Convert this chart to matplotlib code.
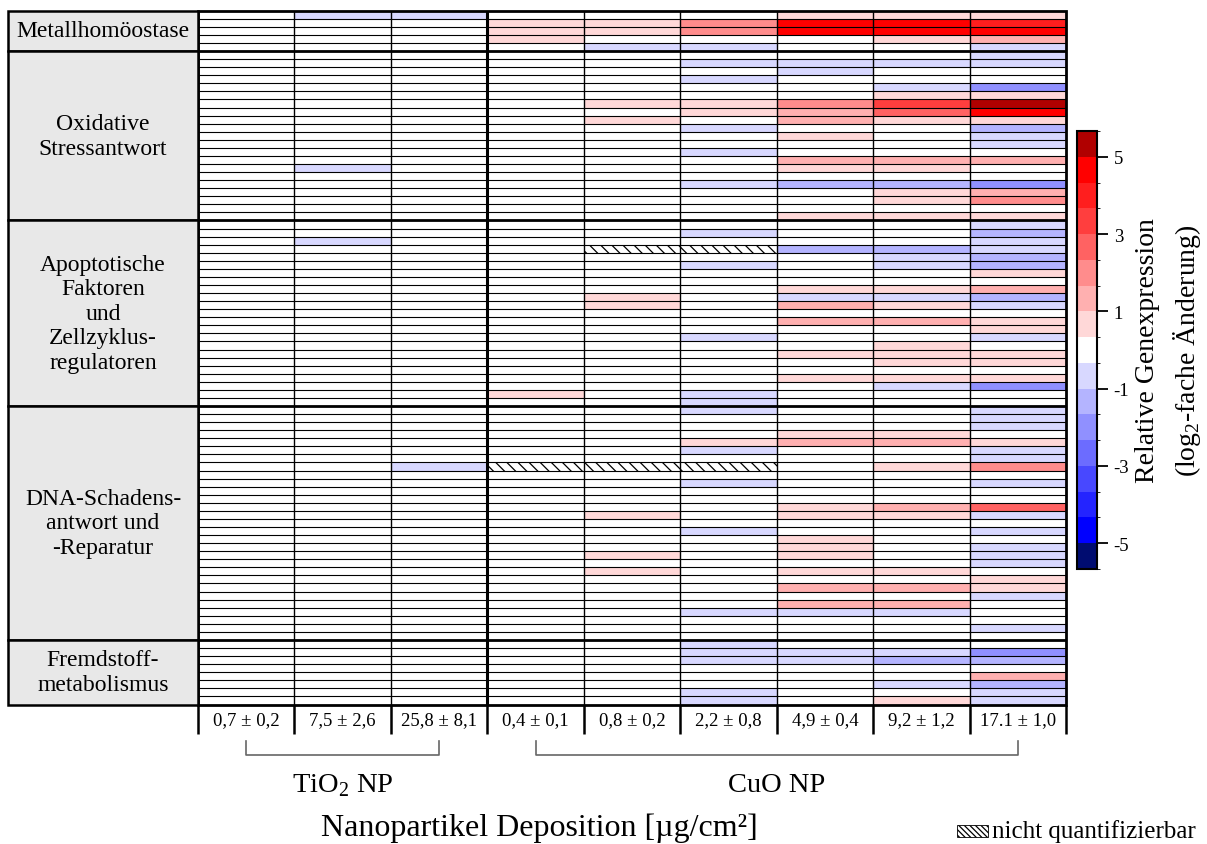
import numpy as np
import matplotlib
matplotlib.use('Agg')
import matplotlib.pyplot as plt
from matplotlib.colors import ListedColormap, BoundaryNorm
from matplotlib.patches import Rectangle

# Schrift wie im Original (Times-aehnlich)
plt.rcParams['font.family'] = ['Liberation Serif', 'DejaVu Serif']
plt.rcParams['mathtext.fontset'] = 'custom'
plt.rcParams['mathtext.rm'] = 'Liberation Serif'
plt.rcParams['axes.unicode_minus'] = False
plt.rcParams['hatch.linewidth'] = 0.9

n = np.nan  # nicht quantifizierbar

# Spalten: TiO2 (0,7 / 7,5 / 25,8) und CuO (0,4 / 0,8 / 2,2 / 4,9 / 9,2 / 17,1)
spalten = ['0,7 ± 0,2', '7,5 ± 2,6', '25,8 ± 8,1', '0,4 ± 0,1', '0,8 ± 0,2',
           '2,2 ± 0,8', '4,9 ± 0,4', '9,2 ± 1,2', '17.1 ± 1,0']

gruppen = ['Metallhomöostase', 'Oxidative\nStressantwort',
           'Apoptotische\nFaktoren\nund\nZellzyklus-\nregulatoren',
           'DNA-Schadens-\nantwort und\n-Reparatur', 'Fremdstoff-\nmetabolismus']

# log2-fache Aenderung pro Gen (Zeile) und Dosis (Spalte)
metall = [
    [0, -0.7, -0.7, 0, 0, 0, 0.7, 0.7, 0.7],
    [0, 0, 0, 0.7, 0.7, 2.0, 4.7, 4.7, 4.0],
    [0, 0, 0, 0.7, 0.7, 2.0, 4.7, 4.7, 4.7],
    [0, 0, 0, 0.7, 0, 0, 0, 0.7, 1.3],
    [0, 0, 0, 0, -0.7, -0.7, 0, 0, -0.7],
]
oxidativ = [
    [0, 0, 0, 0, 0, 0, 0, 0, -0.7],
    [0, 0, 0, 0, 0, -0.7, -0.7, -0.7, -0.7],
    [0, 0, 0, 0, 0, 0, -0.7, 0, 0],
    [0, 0, 0, 0, 0, -0.7, 0, 0, 0],
    [0, 0, 0, 0, 0, 0, 0, -0.7, -2.0],
    [0, 0, 0, 0, 0, 0, 0, 0.7, 0.7],
    [0, 0, 0, 0, 0.7, 0.7, 2.0, 3.3, 5.3],
    [0, 0, 0, 0, 0, 0.7, 1.3, 2.7, 4.7],
    [0, 0, 0, 0, 0.7, 0, 1.3, 0.7, 0.7],
    [0, 0, 0, 0, 0, -0.7, 0, 0, -1.3],
    [0, 0, 0, 0, 0, 0, 0.7, 0, -0.7],
    [0, 0, 0, 0, 0, 0, 0, 0, -0.7],
    [0, 0, 0, 0, 0, -0.7, 0, 0, 0],
    [0, 0, 0, 0, 0, 0, 1.3, 1.3, 1.3],
    [0, -0.7, 0, 0, 0, 0, 0.7, 0.7, 0],
    [0, 0, 0, 0, 0, 0, 0, 0, 0],
    [0, 0, 0, 0, 0, -0.7, -1.3, -1.3, -2.0],
    [0, 0, 0, 0, 0, 0, 0, 0.7, 1.3],
    [0, 0, 0, 0, 0, 0, 0, 0.7, 2.0],
    [0, 0, 0, 0, 0, 0, 0, 0, 0],
    [0, 0, 0, 0, 0, 0, 0.7, 0.7, 0.7],
]
apoptose = [
    [0, 0, 0, 0, 0, 0, 0, 0, -0.7],
    [0, 0, 0, 0, 0, -0.7, 0, 0, -1.3],
    [0, -0.7, 0, 0, 0, 0, 0, 0, -0.7],
    [0, 0, 0, 0, n, n, -1.3, -1.3, -0.7],
    [0, 0, 0, 0, 0, 0, 0, -0.7, -1.3],
    [0, 0, 0, 0, 0, -0.7, 0, -0.7, -1.3],
    [0, 0, 0, 0, 0, 0, 0, 0, 0.7],
    [0, 0, 0, 0, 0, 0, 0, 0, 0],
    [0, 0, 0, 0, 0, 0, 0.7, 0.7, 1.3],
    [0, 0, 0, 0, 0.7, 0, -0.7, -0.7, -1.3],
    [0, 0, 0, 0, 0.7, 0, 1.3, 0.7, -0.7],
    [0, 0, 0, 0, 0, 0, 0, 0, 0],
    [0, 0, 0, 0, 0, 0, 1.3, 1.3, 0.7],
    [0, 0, 0, 0, 0, 0, 0, 0, 0.7],
    [0, 0, 0, 0, 0, -0.7, 0, 0, -0.7],
    [0, 0, 0, 0, 0, 0, 0, 0.7, 0],
    [0, 0, 0, 0, 0, 0, 0.7, 0.7, 0.7],
    [0, 0, 0, 0, 0, 0, 0, 0.7, 0.7],
    [0, 0, 0, 0, 0, 0, 0, 0, 0],
    [0, 0, 0, 0, 0, 0, 0.7, 0.7, 0.7],
    [0, 0, 0, 0, 0, 0, 0, -0.7, -2.0],
    [0, 0, 0, 0.7, 0, -0.7, 0, 0, 0],
    [0, 0, 0, 0, 0, -0.7, 0, 0, 0],
]
dna = [
    [0, 0, 0, 0, 0, -0.7, 0, 0, -0.7],
    [0, 0, 0, 0, 0, 0, 0, 0, -0.7],
    [0, 0, 0, 0, 0, 0, 0, 0, -0.7],
    [0, 0, 0, 0, 0, 0, 0.7, 0.7, 0],
    [0, 0, 0, 0, 0, 0.7, 1.3, 1.3, 0.7],
    [0, 0, 0, 0, 0, -0.7, 0, 0, -0.7],
    [0, 0, 0, 0, 0, 0, 0, 0, -0.7],
    [0, 0, -0.7, n, n, n, 0, 0.7, 2.0],
    [0, 0, 0, 0, 0, 0, 0, 0, 0],
    [0, 0, 0, 0, 0, -0.7, 0, 0, -0.7],
    [0, 0, 0, 0, 0, 0, 0, 0, 0],
    [0, 0, 0, 0, 0, 0, 0, 0, 0],
    [0, 0, 0, 0, 0, 0, 0.7, 1.3, 2.7],
    [0, 0, 0, 0, 0.7, 0, 0.7, 0.7, -0.7],
    [0, 0, 0, 0, 0, 0, 0, 0, 0],
    [0, 0, 0, 0, 0, -0.7, 0, 0, -0.7],
    [0, 0, 0, 0, 0, 0, 0.7, 0, 0],
    [0, 0, 0, 0, 0, 0, 0.7, 0, -0.7],
    [0, 0, 0, 0, 0.7, 0, 0.7, 0, -0.7],
    [0, 0, 0, 0, 0, 0, 0, 0, -0.7],
    [0, 0, 0, 0, 0.7, 0, 0.7, 0.7, 0],
    [0, 0, 0, 0, 0, 0, 0, 0, 0.7],
    [0, 0, 0, 0, 0, 0, 1.3, 1.3, 0.7],
    [0, 0, 0, 0, 0, 0, 0, 0, -0.7],
    [0, 0, 0, 0, 0, 0, 1.3, 1.3, 0],
    [0, 0, 0, 0, 0, -0.7, -0.7, -0.7, 0],
    [0, 0, 0, 0, 0, 0, 0, 0, 0],
    [0, 0, 0, 0, 0, 0, 0, 0, -0.7],
    [0, 0, 0, 0, 0, 0, 0, 0, 0],
]
fremdstoff = [
    [0, 0, 0, 0, 0, -0.7, 0, 0, 0],
    [0, 0, 0, 0, 0, -0.7, -0.7, -0.7, -2.0],
    [0, 0, 0, 0, 0, -0.7, -0.7, -1.3, -1.3],
    [0, 0, 0, 0, 0, 0, 0, 0, 0],
    [0, 0, 0, 0, 0, 0, 0, 0, 1.3],
    [0, 0, 0, 0, 0, 0, 0, -0.7, -1.3],
    [0, 0, 0, 0, 0, -0.7, 0, 0, -0.7],
    [0, 0, 0, 0, 0, -0.7, 0, 0.7, -0.7],
]

# diskrete Farbskala (17 Stufen, Breite 2/3)
farben = ['#000c70', '#0000ff', '#2424ff', '#4848ff', '#6c6cff', '#9090ff', '#b4b4ff', '#d8d8ff',
          '#ffffff',
          '#ffd8d8', '#ffb0b0', '#ff8c8c', '#ff6262', '#ff3e3e', '#ff1e1e', '#ff0000', '#b00000']
grenzen = np.linspace(-17 / 3, 17 / 3, 18)
cmap = ListedColormap(farben)
norm = BoundaryNorm(grenzen, cmap.N)

bloecke = [metall, oxidativ, apoptose, dna, fremdstoff]
daten = np.array(sum(bloecke, []), dtype=float)
n_zeilen = daten.shape[0]
grp_grenzen = np.cumsum([0] + [len(b) for b in bloecke])

W, H = 1207, 845
fig = plt.figure(figsize=(W / 100, H / 100), dpi=100)
fig.patch.set_facecolor('white')

# Heatmap-Achse (Pixelrahmen 198..1066, 11.7..705.5)
L, R, T, B = 198, 1066, 11.7, 705.5
ax = fig.add_axes([L / W, 1 - B / H, (R - L) / W, (B - T) / H])
ax.set_xlim(0, 9)
ax.set_ylim(n_zeilen, 0)
ax.axis('off')
col_px = (R - L) / 9
row_px = (B - T) / n_zeilen

mesh = ax.pcolormesh(np.arange(10), np.arange(n_zeilen + 1), np.ma.masked_invalid(daten),
                     cmap=cmap, norm=norm)

# nicht quantifizierbare Zellen schraffiert
for r, c in zip(*np.where(np.isnan(daten))):
    ax.add_patch(Rectangle((c, r), 1, 1, facecolor='white', edgecolor='black', lw=0,
                           hatch='\\\\\\'))

# Gitter
ax.hlines(np.arange(1, n_zeilen), 0, 9, colors='black', lw=0.8)
ax.vlines(np.arange(1, 9), 0, n_zeilen, colors='black', lw=1.0)
ax.vlines(3, 0, n_zeilen, colors='black', lw=2.2)
links = -(L - 8) / col_px
ax.hlines(grp_grenzen[1:-1], links, 9, colors='black', lw=2.0, clip_on=False)
ax.add_patch(Rectangle((0, 0), 9, n_zeilen, fill=False, edgecolor='black', lw=2.0, clip_on=False))

# Gruppenkaesten links
for i, name in enumerate(gruppen):
    y0, y1 = grp_grenzen[i], grp_grenzen[i + 1]
    ax.add_patch(Rectangle((links, y0), -links, y1 - y0, facecolor='#e8e8e8', edgecolor='black',
                           lw=1.8, clip_on=False, zorder=3))
    ax.text(links / 2, (y0 + y1) / 2, name, ha='center', va='center', fontsize=17,
            linespacing=1.22, clip_on=False, zorder=4)

# Spaltenbeschriftung unten
unter = (735 - T) / row_px
ax.vlines(np.arange(10), n_zeilen, unter, colors='black', lw=1.8, clip_on=False)
for i, s in enumerate(spalten):
    ax.text(i + 0.5, (721 - T) / row_px, s, ha='center', va='center', fontsize=13.5, clip_on=False)

# Klammern TiO2 / CuO
k0, k1 = (742 - T) / row_px, (756 - T) / row_px
for xa, xb in [(0.5, 2.5), (3.5, 8.5)]:
    ax.plot([xa, xa, xb, xb], [k0, k1, k1, k0], color='#666666', lw=1.2, clip_on=False)
ax.text(1.5, (786 - T) / row_px, 'TiO$_2$ NP', ha='center', va='center', fontsize=20.5,
        clip_on=False)
ax.text(6.0, (786 - T) / row_px, 'CuO NP', ha='center', va='center', fontsize=20.5,
        clip_on=False)

fig.text(539 / W, 1 - 828 / H, 'Nanopartikel Deposition [µg/cm²]', ha='center', va='center',
         fontsize=23)

# Legende fuer Schraffur
leg = fig.add_axes([0, 0, 1, 1], facecolor='none')
leg.set_xlim(0, W)
leg.set_ylim(H, 0)
leg.axis('off')
leg.add_patch(Rectangle((957, 826), 31, 12, facecolor='white', edgecolor='black', lw=0.6,
                        hatch='\\\\\\\\\\\\'))
leg.text(992, 832, 'nicht quantifizierbar', ha='left', va='center', fontsize=18)

# Farbskala
cax = fig.add_axes([1077 / W, 1 - 570 / H, 20 / W, 438 / H])
cb = fig.colorbar(mesh, cax=cax, ticks=[-5, -3, -1, 1, 3, 5])
cb.set_ticklabels(['-5', '-3', '-1', '1', '3', '5'])
cb.outline.set_linewidth(1.5)
cax.tick_params(length=8, width=1.3, labelsize=13.5, pad=4)
fig.text(1148 / W, 1 - 351 / H, 'Relative Genexpression', rotation=90, ha='center', va='center',
         fontsize=20)
fig.text(1187 / W, 1 - 351 / H, '(log$_2$-fache Änderung)', rotation=90, ha='center',
         va='center', fontsize=20)

fig.savefig('out.png', dpi=100, facecolor='white')
